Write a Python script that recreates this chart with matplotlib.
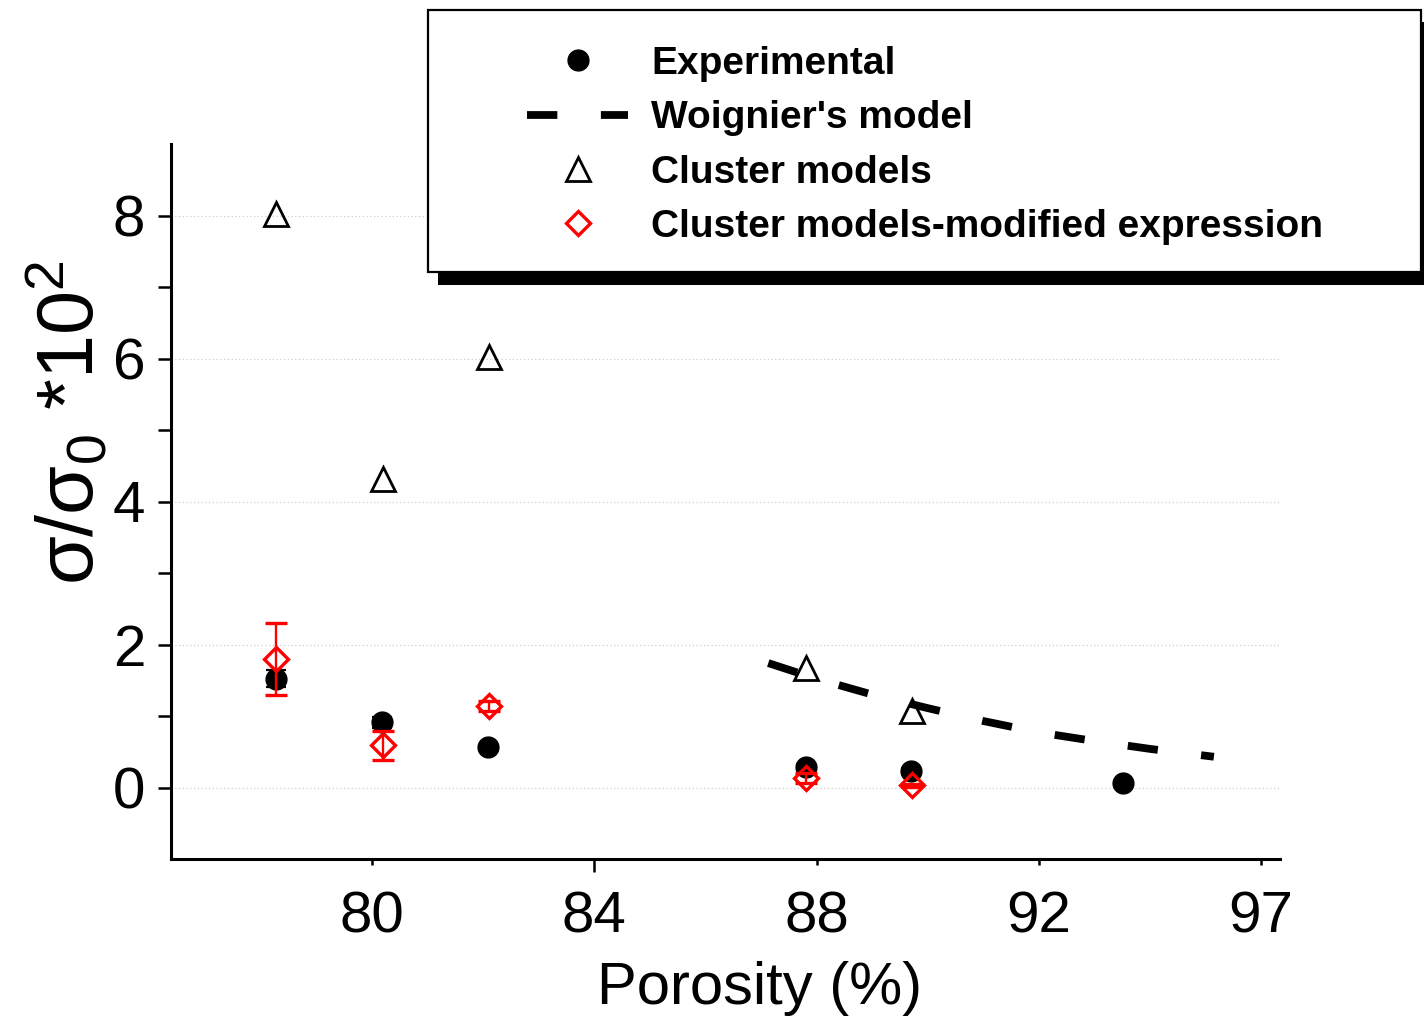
import matplotlib
matplotlib.use("Agg")
import matplotlib.pyplot as plt
from matplotlib.patches import Rectangle

plt.rcParams['font.family'] = ['Liberation Sans', 'DejaVu Sans']
plt.rcParams['mathtext.fontset'] = 'custom'
plt.rcParams['mathtext.rm'] = 'Liberation Sans'
plt.rcParams['mathtext.it'] = 'Liberation Sans'
plt.rcParams['mathtext.default'] = 'regular'

# ---------------- data ----------------
x_exp = [78.27, 80.18, 82.08, 87.80, 89.70, 93.51]
y_exp = [1.52, 0.91, 0.56, 0.29, 0.23, 0.06]
e_exp = [0.12, 0.08, 0.04, 0.04, 0.04, 0.03]

x_clu = [78.27, 80.20, 82.10, 87.80, 89.72]
y_clu = [8.02, 4.32, 6.02, 1.67, 1.07]

x_mod = [78.27, 80.20, 82.10, 87.80, 89.72]
y_mod = [1.80, 0.59, 1.14, 0.13, 0.03]
e_mod = [0.50, 0.20, 0.07, 0.07, 0.02]

x_woi = [87.13, 88.0, 89.0, 90.0, 91.0, 92.0, 93.0, 94.0, 95.15]
y_woi = [1.74, 1.52, 1.30, 1.11, 0.93, 0.77, 0.65, 0.54, 0.43]

x_ticks = [80, 84, 88, 92, 96]
x_ticklabels = ['80', '84', '88', '92', '97']
y_ticks = [0, 2, 4, 6, 8]
y_minor = [1, 3, 5, 7]

labels = ['Experimental', "Woignier's model", 'Cluster models',
          'Cluster models-modified expression']

# ---------------- figure ----------------
W, H = 1424, 1027
fig = plt.figure(figsize=(W / 100, H / 100), dpi=100)
ax = fig.add_axes([171 / W, 1 - 859 / H, (1280 - 171) / W, (859 - 144) / H])

ax.set_xlim(76.38, 96.34)
ax.set_ylim(-1, 9)

for y in y_ticks:
    ax.axhline(y, color='#cfcfcf', lw=0.9, ls=(0, (1, 2)), zorder=0)

h_exp = ax.errorbar(x_exp, y_exp, yerr=e_exp, fmt='o', color='black',
                    ms=15, capsize=7, elinewidth=1.6, capthick=1.6, zorder=3)
h_clu, = ax.plot(x_clu, y_clu, ls='none', marker='^', ms=17.5,
                 mfc='none', mec='black', mew=2.0, zorder=4)
h_woi, = ax.plot(x_woi, y_woi, color='black', lw=5.6, zorder=5,
                 dashes=(3.9, 5.6), dash_capstyle='butt')
h_mod = ax.errorbar(x_mod, y_mod, yerr=e_mod, fmt='D', color='red',
                    mfc='none', mec='red', mew=2.4, ms=12.5,
                    capsize=8, elinewidth=1.7, capthick=1.7, zorder=6)

ax.spines['top'].set_visible(False)
ax.spines['right'].set_visible(False)
for s in ('left', 'bottom'):
    ax.spines[s].set_linewidth(2.2)

ax.set_xticks(x_ticks)
ax.set_xticklabels(x_ticklabels)
ax.set_yticks(y_ticks)
ax.set_yticks(y_minor, minor=True)
ax.tick_params(axis='x', which='major', direction='out', length=4.5, width=1.8,
               labelsize=42, pad=18)
ax.tick_params(axis='y', which='major', direction='out', length=9.5, width=1.8,
               labelsize=42, pad=9)
ax.tick_params(axis='y', which='minor', direction='out', length=9.5, width=1.8)
ax.xaxis.get_major_ticks()[1].tick1line.set_markersize(9.5)

ax.set_xlabel('Porosity (%)', fontsize=43)
ax.xaxis.set_label_coords((760 - 171) / (1280 - 171), -0.142)

fig.text(68 / W, 1 - 423 / H, 'σ/σ$_0$ *10$^2$', rotation=90,
         ha='center', va='center', fontsize=57)

# legend frame with shadow
fig.patches.append(Rectangle((438 / W, 1 - 285 / H), (1440 - 438) / W,
                             (285 - 22) / H, transform=fig.transFigure,
                             facecolor='black', edgecolor='none', zorder=1))
fig.patches.append(Rectangle((428 / W, 1 - 272 / H), (1421 - 428) / W,
                             (272 - 10) / H, transform=fig.transFigure,
                             facecolor='white', edgecolor='black', lw=1.6, zorder=2))

leg = fig.legend([h_exp[0], h_woi, h_clu, h_mod[0]], labels,
                 loc='upper left', bbox_to_anchor=(527 / W, 1 - 46 / H),
                 bbox_transform=fig.transFigure, frameon=False, borderpad=0,
                 borderaxespad=0, handlelength=2.6, handletextpad=0.6,
                 labelspacing=0.47, prop={'weight': 'bold', 'size': 28})
leg.set_zorder(10)

fig.savefig('out.png', dpi=100)
